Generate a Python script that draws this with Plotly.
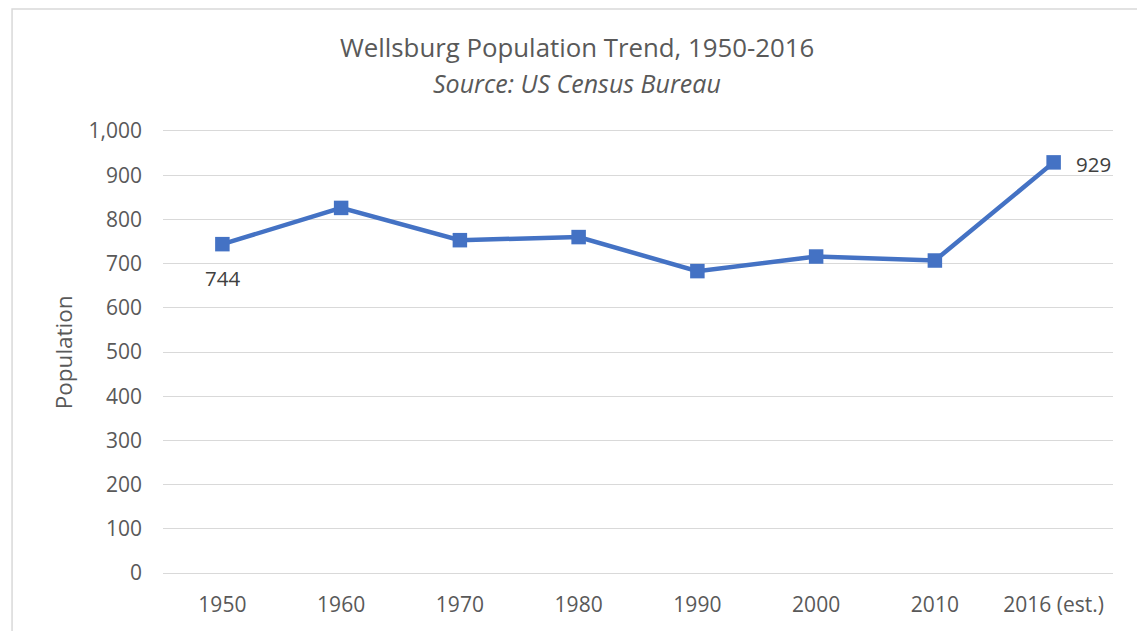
"""Wellsburg population line chart."""
import plotly.graph_objects as go

years = ["1950", "1960", "1970", "1980", "1990", "2000", "2010", "2016 (est.)"]
population = [744, 826, 753, 760, 683, 716, 707, 929]
y_ticks = [0, 100, 200, 300, 400, 500, 600, 700, 800, 900, 1000]
y_tick_labels = ["0", "100", "200", "300", "400", "500", "600", "700", "800", "900", "1,000"]

BLUE = "#4472C4"
GREY_TEXT = "#595959"
GRID = "#d9d9d9"
FONT = "Open Sans"

fig = go.Figure()
fig.add_trace(
    go.Scatter(
        x=years,
        y=population,
        mode="lines+markers",
        line=dict(color=BLUE, width=4.5),
        marker=dict(symbol="square", size=14.5, color=BLUE),
        hoverinfo="x+y",
    )
)

# data labels for first and last points (x given as category index)
fig.add_annotation(
    x=0, y=population[0], text=str(population[0]),
    showarrow=False, yshift=-34, xanchor="center", yanchor="middle",
    font=dict(family=FONT, size=20.5, color="#404040"),
)
fig.add_annotation(
    x=len(years) - 1, y=population[-1], text=str(population[-1]),
    showarrow=False, xshift=40, yshift=-2, xanchor="center", yanchor="middle",
    font=dict(family=FONT, size=20.5, color="#404040"),
)

# title, subtitle, axis title
fig.add_annotation(
    xref="paper", yref="paper", x=0.4358, y=1.190, xanchor="center", yanchor="middle",
    text="Wellsburg Population Trend, 1950-2016",
    showarrow=False, font=dict(family=FONT, size=25.8, color=GREY_TEXT),
)
fig.add_annotation(
    xref="paper", yref="paper", x=0.4358, y=1.1086, xanchor="center", yanchor="middle",
    text="<i>Source: US Census Bureau</i>",
    showarrow=False, font=dict(family=FONT, size=25, color=GREY_TEXT),
)
fig.add_annotation(
    xref="paper", yref="paper", x=-0.105, y=0.5, xanchor="center", yanchor="middle",
    text="Population", textangle=-90,
    showarrow=False, font=dict(family=FONT, size=22.5, color=GREY_TEXT),
)

# chart border
fig.add_shape(
    type="rect", xref="paper", yref="paper",
    x0=-0.1589, x1=1.0295, y0=-0.1516, y1=1.276,
    line=dict(color=GRID, width=1.5), layer="below",
)

# page has an 8px body margin, so the figure is 8px smaller and margins shifted
fig.update_layout(
    width=1137,
    height=623,
    margin=dict(l=155, r=32, t=123, b=58),
    paper_bgcolor="white",
    plot_bgcolor="white",
    showlegend=False,
    font=dict(family=FONT, size=21, color=GREY_TEXT),
)
# x axis line + mirror stand in for the 0 and 1,000 gridlines
fig.update_xaxes(
    type="category",
    range=[-0.5, len(years) - 0.5],
    automargin=False,
    showgrid=False,
    showline=True,
    linecolor=GRID,
    linewidth=1.3,
    mirror=True,
    zeroline=False,
    ticklabelstandoff=13,
    tickfont=dict(family=FONT, size=21, color=GREY_TEXT),
)
fig.update_yaxes(
    range=[0, 1000],
    automargin=False,
    tickvals=y_ticks,
    ticktext=y_tick_labels,
    showgrid=True,
    gridcolor=GRID,
    gridwidth=1.3,
    zeroline=False,
    showline=False,
    ticklabelstandoff=20,
    tickfont=dict(family=FONT, size=21, color=GREY_TEXT),
)

fig.write_html("out.html")
